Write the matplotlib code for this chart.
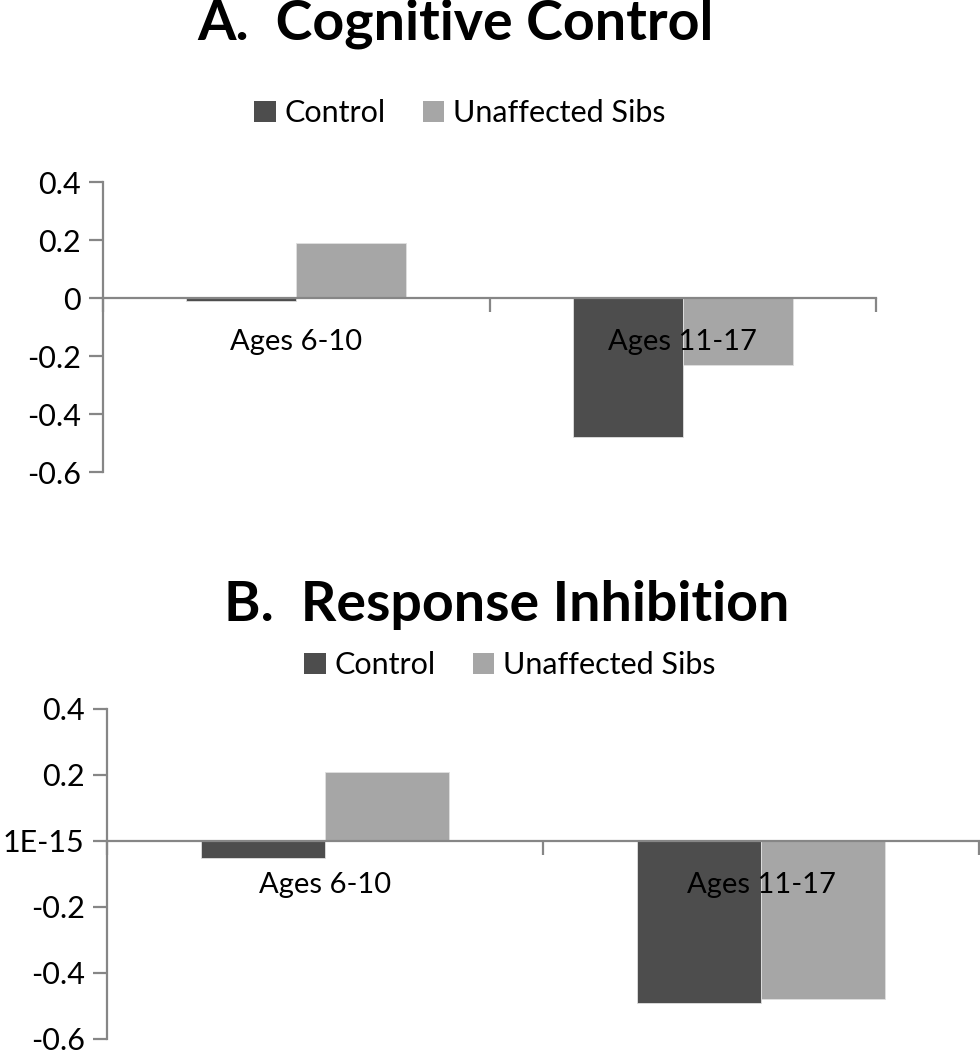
import matplotlib
matplotlib.use("Agg")
import matplotlib.pyplot as plt
from matplotlib.patches import Patch
import numpy as np

plt.rcParams['font.family'] = ['Lato', 'DejaVu Sans']

categories = ["Ages 6-10", "Ages 11-17"]
series_names = ["Control", "Unaffected Sibs"]

a_title = "A.  Cognitive Control"
a_control = [-0.01, -0.48]
a_sibs = [0.19, -0.23]
a_yticks = [0.4, 0.2, 0.0, -0.2, -0.4, -0.6]
a_yticklabels = ["0.4", "0.2", "0", "-0.2", "-0.4", "-0.6"]

b_title = "B.  Response Inhibition"
b_control = [-0.05, -0.49]
b_sibs = [0.21, -0.48]
b_yticks = [0.4, 0.2, 0.0, -0.2, -0.4, -0.6]
b_yticklabels = ["0.4", "0.2", "1E-15", "-0.2", "-0.4", "-0.6"]

col_control = "#4d4d4d"
col_sibs = "#a6a6a6"
spine_col = "#868686"

W, H = 980, 1050
fig = plt.figure(figsize=(W / 100, H / 100), dpi=100)


def px_axes(x0, x1, ytop, ybot):
    return fig.add_axes([x0 / W, 1 - ybot / H, (x1 - x0) / W, (ybot - ytop) / H])


def draw_panel(ax, control, sibs, yticks, yticklabels):
    n = len(categories)
    centers = np.arange(n) + 0.5
    bw = 0.285
    ax.bar(centers - bw / 2, control, width=bw, color=col_control, zorder=2,
           edgecolor="#e0e0e0", linewidth=0.6)
    ax.bar(centers + bw / 2, sibs, width=bw, color=col_sibs, zorder=2,
           edgecolor="#e0e0e0", linewidth=0.6)
    ax.set_xlim(0, n)
    ax.set_ylim(-0.6, 0.4)
    ax.set_yticks(yticks)
    ax.set_yticklabels(yticklabels)
    for s in ["top", "right"]:
        ax.spines[s].set_visible(False)
    ax.spines["bottom"].set_position(("data", 0))
    for s in ["left", "bottom"]:
        ax.spines[s].set_color(spine_col)
        ax.spines[s].set_linewidth(1.6)
        ax.spines[s].set_zorder(3)
    ax.set_xticks(np.arange(n + 1))
    ax.set_xticklabels([])
    ax.tick_params(axis="x", direction="out", length=10, width=1.6, color=spine_col)
    ax.tick_params(axis="y", direction="out", length=10, width=1.6, color=spine_col,
                   labelsize=22, pad=6)
    for c, lab in zip(centers, categories):
        ax.annotate(lab, xy=(c, 0), xycoords="data", xytext=(0, -44),
                    textcoords="offset pixels",
                    ha="center", va="center", fontsize=21, zorder=5)
    ax.patch.set_alpha(0)


handles = [Patch(facecolor=col_control), Patch(facecolor=col_sibs)]

# Panel A
axA = px_axes(103, 876, 182, 472)
draw_panel(axA, a_control, a_sibs, a_yticks, a_yticklabels)
fig.text(455 / W, 1 - 24 / H, a_title, ha="center", va="center",
         fontsize=40, fontweight="bold")
fig.legend(handles, series_names, loc="center", bbox_to_anchor=(460 / W, 1 - 113 / H),
           ncol=2, frameon=False, fontsize=22, handlelength=0.7, handleheight=0.7,
           handletextpad=0.3, columnspacing=1.2)

# Panel B
axB = px_axes(107, 979, 709, 1039)
draw_panel(axB, b_control, b_sibs, b_yticks, b_yticklabels)
fig.text(507 / W, 1 - 605 / H, b_title, ha="center", va="center",
         fontsize=40, fontweight="bold")
fig.legend(handles, series_names, loc="center", bbox_to_anchor=(510 / W, 1 - 665 / H),
           ncol=2, frameon=False, fontsize=22, handlelength=0.7, handleheight=0.7,
           handletextpad=0.3, columnspacing=1.2)

fig.savefig("out.png", dpi=100, facecolor="white")
